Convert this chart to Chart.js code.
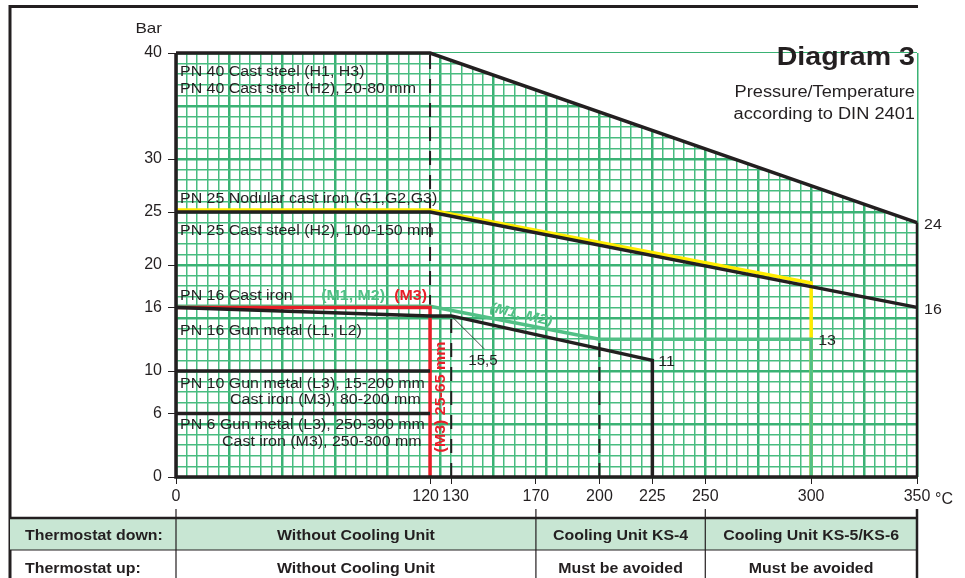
<!DOCTYPE html>
<html lang="en">
<head>
  <meta charset="UTF-8" />
  <title>Diagram 3</title>
  <script src="https://cdn.jsdelivr.net/npm/chart.js"></script>
  <style>
    body { margin: 0; background: #fff; }
    #wrap { width: 965px; height: 578px; }
  </style>
</head>
<body>
<div id="wrap"><canvas id="chart"></canvas></div>
<script>
  // axis ticks
  const tempTicks = [0, 120, 130, 170, 200, 225, 250, 300, 350];
  const barTicks = [0, 6, 10, 16, 20, 25, 30, 40];

  // curves: temperature (°C) / pressure (bar)
  const outlineT = [0, 120, 350, 350, 0, 0];
  const outlineP = [40, 40, 24, 0, 0, 40];
  const pn25T = [0, 120, 350];
  const pn25P = [25, 25, 16];
  const nodularT = [0, 120, 300, 300];
  const nodularP = [25.2, 25.2, 18.3, 0];
  const m12T = [0, 120, 200, 300, 300];
  const m12P = [16.1, 16.1, 13, 13, 0];
  const m3T = [0, 120, 120];
  const m3P = [16, 16, 0];
  const gunT = [0, 120, 130, 225, 225];
  const gunP = [16, 15.2, 15.2, 11, 0];
  const pn10T = [0, 120];
  const pn10P = [10, 10];
  const pn6T = [0, 120];
  const pn6P = [6, 6];
  // dashed limits
  const limitT = [120, 130, 200];
  const limitP = [40, 15.2, 13];

  // table under the chart
  const zoneEdges = [0, 170, 250, 350];
  const rowDown = ['Without Cooling Unit', 'Cooling Unit KS-4', 'Cooling Unit KS-5/KS-6'];
  const rowUp = ['Without Cooling Unit', 'Must be avoided', 'Must be avoided'];

  const ink = '#231f20';
  const FONT = '"Liberation Sans", Arial, sans-serif';

  const pts = (T, P) => T.map((t, i) => ({ x: t, y: P[i] }));

  function line(T, P, color, width, extra) {
    return Object.assign({
      data: pts(T, P), borderColor: color, borderWidth: width,
      pointRadius: 0, tension: 0, fill: false, clip: 6,
      borderJoinStyle: 'miter', borderCapStyle: 'butt'
    }, extra || {});
  }

  const datasets = [
    line(outlineT, outlineP, ink, 3.5, { order: 1,
      segment: { borderWidth: c => c.p0DataIndex === 2 ? 2.5 : 3.5 } }),
    line(pn25T, pn25P, ink, 3.5, { order: 1 }),
    line(gunT, gunP, ink, 3.5, { order: 1 }),
    line(pn10T, pn10P, ink, 3.5, { order: 1 }),
    line(pn6T, pn6P, ink, 3.5, { order: 1 }),
    line(m3T, m3P, 'rgb(232,30,40)', 3.5, { order: 3 }),
    line(m12T, m12P, 'rgb(82,192,134)', 3.5, { order: 4 }),
    line(nodularT, nodularP, 'rgb(255,236,0)', 3.5, { order: 5 }),
    // white cover above the PN 40 envelope, hides the grid there
    line(outlineT.slice(0, 3), outlineP.slice(0, 3), 'rgba(0,0,0,0)', 0,
      { order: 10, fill: 'end', backgroundColor: '#fff', clip: 0 })
  ];
  limitT.forEach((t, i) => {
    datasets.push(line([t, t], [0, limitP[i]], ink, 2, { order: 6, borderDash: [14, 10] }));
  });

  // fine grid 5 °C / 1 bar, heavier every 25 °C / 5 bar
  const gridT = [], gridP = [];
  for (let t = 0; t <= 350; t += 5) gridT.push(t);
  for (let p = 0; p <= 40; p += 1) gridP.push(p);

  function say(ctx, s, x, y, o) {
    o = o || {};
    ctx.save();
    ctx.font = (o.style || '') + ' ' + (o.size || 14) + 'px ' + FONT;
    ctx.fillStyle = o.color || ink;
    ctx.textAlign = o.align || 'left';
    ctx.textBaseline = 'alphabetic';
    ctx.translate(x, y);
    if (o.rot) ctx.rotate(o.rot);
    ctx.scale(o.sx || 1.14, 1);
    ctx.fillText(s, 0, 0);
    ctx.restore();
  }

  const decor = {
    id: 'decor',
    afterDraw(chart) {
      const ctx = chart.ctx;
      const X = v => chart.scales.x.getPixelForValue(v);
      const Y = v => chart.scales.y.getPixelForValue(v);
      const L = X(0) + 4;

      // outer frame
      ctx.save();
      ctx.strokeStyle = ink;
      ctx.lineWidth = 3;
      ctx.beginPath();
      ctx.moveTo(10, chart.height);
      ctx.lineTo(10, 6.5);
      ctx.lineTo(X(350) + 1, 6.5);
      ctx.stroke();
      ctx.restore();

      // titles
      say(ctx, 'Bar', X(0) - 14, 33, { size: 15, align: 'right' });
      say(ctx, 'Diagram 3', X(350) - 2, 65, { size: 26, style: 'bold', align: 'right', sx: 1.1 });
      say(ctx, 'Pressure/Temperature', X(350) - 2, 97, { size: 16, align: 'right' });
      say(ctx, 'according to DIN 2401', X(350) - 2, 119, { size: 16, align: 'right' });

      // curve labels
      say(ctx, 'PN 40 Cast steel (H1, H3)', L, Y(40) + 23);
      say(ctx, 'PN 40 Cast steel (H2), 20-80 mm', L, Y(40) + 40);
      say(ctx, 'PN 25 Nodular cast iron (G1,G2,G3)', L, Y(25) - 9);
      say(ctx, 'PN 25 Cast steel (H2), 100-150 mm', L, Y(25) + 23);
      say(ctx, 'PN 16 Cast iron', L, Y(16) - 7);
      say(ctx, '(M1, M2)', X(120) - 45, Y(16) - 7, { style: 'bold', align: 'right', color: 'rgb(82,192,134)' });
      say(ctx, '(M3)', X(120) - 3, Y(16) - 7, { style: 'bold', align: 'right', color: 'rgb(232,30,40)' });
      say(ctx, 'PN 16 Gun metal (L1, L2)', L, Y(16) + 28);
      say(ctx, 'PN 10 Gun metal (L3), 15-200 mm', L, Y(10) + 17);
      say(ctx, 'Cast iron (M3), 80-200 mm', L + 50, Y(10) + 33);
      say(ctx, 'PN 6 Gun metal (L3), 250-300 mm', L, Y(6) + 16);
      say(ctx, 'Cast iron (M3), 250-300 mm', L + 42, Y(6) + 33);

      ctx.save();
      ctx.font = 'bold 14px ' + FONT;
      ctx.fillStyle = 'rgb(232,30,40)';
      ctx.textAlign = 'center';
      ctx.textBaseline = 'middle';
      ctx.translate(X(120) + 11, Y(0) - 80);
      ctx.rotate(-Math.PI / 2);
      ctx.scale(1.14, 1);
      ctx.fillText('(M3) 25-65 mm', 0, 0);
      ctx.restore();

      ctx.save();
      ctx.font = 'italic bold 14px ' + FONT;
      ctx.fillStyle = 'rgb(82,192,134)';
      ctx.textAlign = 'center';
      ctx.textBaseline = 'middle';
      ctx.translate(X(163), Y(15.3));
      ctx.rotate(0.23);
      ctx.scale(1.14, 1);
      ctx.fillText('(M1, M2)', 0, 0);
      ctx.restore();

      // end values
      say(ctx, '24', X(350) + 7, Y(24) + 6);
      say(ctx, '16', X(350) + 7, Y(16) + 7);
      say(ctx, '13', X(300) + 7, Y(13) + 6);
      say(ctx, '11', X(225) + 6, Y(11) + 6);
      say(ctx, '15,5', X(130) + 17, Y(15.2) + 49, { sx: 1.08 });
      ctx.save();
      ctx.strokeStyle = ink;
      ctx.lineWidth = 0.8;
      ctx.beginPath();
      ctx.moveTo(X(130), Y(15.2));
      ctx.lineTo(X(130) + 33, Y(15.2) + 33);
      ctx.stroke();
      ctx.restore();

      say(ctx, '°C', X(350) + 18, Y(0) + 27, { size: 16, sx: 1 });

      // table
      const top = Y(0) + 41, mid = top + 32, bottom = chart.height;
      const right = X(350);
      ctx.save();
      ctx.fillStyle = 'rgb(200,230,211)';
      ctx.fillRect(10, top, right - 10, mid - top);
      ctx.strokeStyle = ink;
      ctx.lineWidth = 2.5;
      ctx.beginPath();
      ctx.moveTo(10, top); ctx.lineTo(right, top);
      ctx.stroke();
      ctx.lineWidth = 1.2;
      ctx.beginPath();
      ctx.moveTo(10, mid); ctx.lineTo(right, mid);
      zoneEdges.slice(0, 3).forEach(t => {
        ctx.moveTo(X(t), top - 9); ctx.lineTo(X(t), bottom);
      });
      ctx.stroke();
      ctx.lineWidth = 2.5;
      ctx.beginPath();
      ctx.moveTo(right, top - 9); ctx.lineTo(right, bottom);
      ctx.stroke();
      ctx.restore();

      const tb = { size: 15, style: 'bold', sx: 1.06 };
      say(ctx, 'Thermostat down:', 25, top + 22, tb);
      say(ctx, 'Thermostat up:', 25, mid + 23, tb);
      rowDown.forEach((s, i) => {
        const cx = (X(zoneEdges[i]) + X(zoneEdges[i + 1])) / 2;
        say(ctx, s, cx, top + 22, Object.assign({ align: 'center' }, tb));
        say(ctx, rowUp[i], cx, mid + 23, Object.assign({ align: 'center' }, tb));
      });
    }
  };

  const gridColor = major => c => (c.tick && c.tick.value % major === 0) ? 'rgb(58,178,116)' : 'rgb(72,188,128)';
  const gridWidth = major => c => (c.tick && c.tick.value % major === 0) ? 2.5 : 1.5;

  // 120 and 130 sit close together, nudge them apart like the original
  const tempLabel = v => v === 120 ? '120  ' : v === 130 ? '  130' : String(v);

  new Chart(document.getElementById('chart'), {
    type: 'line',
    data: { datasets },
    plugins: [decor],
    options: {
      responsive: true,
      maintainAspectRatio: false,
      animation: false,
      layout: { padding: { top: 53, right: 48, bottom: 61, left: 0 } },
      plugins: { legend: { display: false }, tooltip: { enabled: false } },
      scales: {
        x2: {
          type: 'linear', position: 'bottom', min: 0, max: 350,
          ticks: { display: false },
          grid: { drawTicks: false, color: gridColor(25), lineWidth: gridWidth(25) },
          border: { display: false },
          afterBuildTicks: s => { s.ticks = gridT.map(v => ({ value: v })); },
          afterFit: s => { s.height = 0; }
        },
        y2: {
          type: 'linear', position: 'left', min: 0, max: 40,
          ticks: { display: false },
          grid: { drawTicks: false, color: gridColor(5), lineWidth: gridWidth(5) },
          border: { display: false },
          afterBuildTicks: s => { s.ticks = gridP.map(v => ({ value: v })); },
          afterFit: s => { s.width = 0; }
        },
        x: {
          type: 'linear', position: 'bottom', min: 0, max: 350,
          afterBuildTicks: s => { s.ticks = tempTicks.map(v => ({ value: v })); },
          afterFit: s => { s.height = 40; },
          ticks: { color: ink, padding: 3, maxRotation: 0, autoSkip: false,
            font: { family: FONT, size: 16 }, callback: tempLabel },
          grid: { drawOnChartArea: false, color: ink, tickLength: 7, lineWidth: 1 },
          border: { display: false }
        },
        y: {
          type: 'linear', position: 'left', min: 0, max: 40,
          afterBuildTicks: s => { s.ticks = barTicks.map(v => ({ value: v })); },
          afterFit: s => { s.width = 176; },
          ticks: { color: ink, padding: 6, autoSkip: false, font: { family: FONT, size: 16 } },
          grid: { drawOnChartArea: false, color: ink, tickLength: 8, lineWidth: 1 },
          border: { display: false }
        }
      }
    }
  });
</script>
</body>
</html>
